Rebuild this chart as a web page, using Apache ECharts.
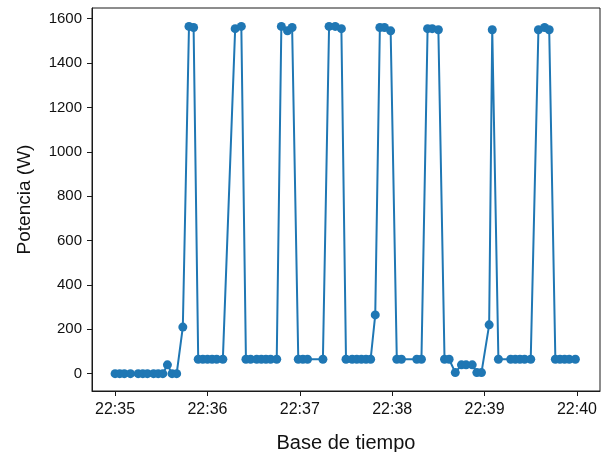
<!DOCTYPE html>
<html>
<head>
<meta charset="utf-8">
<script src="https://cdn.jsdelivr.net/npm/echarts@6/dist/echarts.min.js"></script>
<style>
html,body{margin:0;padding:0;background:#fff;}
#chart{width:603px;height:452px;}
</style>
</head>
<body>
<div id="chart"></div>
<script>
// Sample times (HH:MM:SS) and power readings (W)
const times = [
  "22:35:00","22:35:03","22:35:06","22:35:10","22:35:15","22:35:18","22:35:21","22:35:25","22:35:28","22:35:31",
  "22:35:34","22:35:37","22:35:40","22:35:44","22:35:48","22:35:51","22:35:54","22:35:57","22:36:00","22:36:03",
  "22:36:06","22:36:10","22:36:18","22:36:22","22:36:25","22:36:28","22:36:32","22:36:35","22:36:38","22:36:41",
  "22:36:45","22:36:48","22:36:52","22:36:55","22:36:59","22:37:02","22:37:05","22:37:15","22:37:19","22:37:23",
  "22:37:27","22:37:30","22:37:34","22:37:37","22:37:40","22:37:43","22:37:46","22:37:49","22:37:52","22:37:55",
  "22:37:59","22:38:03","22:38:06","22:38:16","22:38:19","22:38:23","22:38:26","22:38:30","22:38:34","22:38:37",
  "22:38:41","22:38:45","22:38:48","22:38:52","22:38:55","22:38:58","22:39:03","22:39:05","22:39:09","22:39:17",
  "22:39:20","22:39:23","22:39:26","22:39:30","22:39:35","22:39:39","22:39:42","22:39:46","22:39:49","22:39:52",
  "22:39:55","22:39:59"
];
const power = [
  0,0,0,0,0,0,0,0,0,0,
  40,0,0,210,1565,1560,65,65,65,65,
  65,65,1555,1565,65,65,65,65,65,65,
  65,1565,1545,1560,65,65,65,65,1565,1565,
  1555,65,65,65,65,65,65,265,1560,1560,
  1545,65,65,65,65,1555,1555,1550,65,65,
  5,40,40,40,5,5,220,1550,65,65,
  65,65,65,65,1550,1560,1550,65,65,65,
  65,65
];
const xTickTimes = ["22:35:00","22:36:00","22:37:00","22:38:00","22:39:00","22:40:00"];
const yTicks = [0,200,400,600,800,1000,1200,1400,1600];

// seconds of day
const sec = s => { const p = s.split(':').map(Number); return p[0]*3600 + p[1]*60 + (p[2]||0); };
const pad = n => (n<10?'0':'')+n;
const fmt = v => { const h=Math.floor(v/3600), m=Math.floor((v%3600)/60); return pad(h)+':'+pad(m); };
const seriesData = times.map((t,i)=>[sec(t), power[i]]);
const FONT = 'Liberation Sans, Arial, sans-serif';

const chart = echarts.init(document.getElementById('chart'), null, {renderer:'canvas'});
chart.setOption({
  animation:false,
  backgroundColor:'#fff',
  textStyle:{fontFamily:FONT},
  grid:{left:92,right:3,top:8,bottom:61,containLabel:false,outerBoundsMode:'none',
        show:true,borderColor:'#1a1a1a',borderWidth:1,backgroundColor:'transparent'},
  xAxis:{
    type:'value',
    min: sec("22:34:45"),
    max: sec("22:40:15"),
    name:'Base de tiempo',
    nameLocation:'middle',
    nameGap:42,
    nameTextStyle:{fontSize:20,color:'#111',fontFamily:FONT},
    axisLine:{show:true,onZero:false,lineStyle:{color:'#1a1a1a',width:1}},
    axisTick:{show:true,customValues:xTickTimes.map(sec),length:5,lineStyle:{color:'#1a1a1a'}},
    axisLabel:{customValues:xTickTimes.map(sec),fontSize:16,color:'#111',margin:11,formatter:v=>fmt(v)},
    splitLine:{show:false}
  },
  yAxis:{
    type:'value',
    min:-78,
    max:1648,
    name:'Potencia (W)',
    nameLocation:'middle',
    nameGap:58,
    nameTextStyle:{fontSize:19,color:'#111',fontFamily:FONT},
    axisLine:{show:true,onZero:false,lineStyle:{color:'#1a1a1a',width:1}},
    axisTick:{show:true,customValues:yTicks,length:5,lineStyle:{color:'#1a1a1a'}},
    axisLabel:{customValues:yTicks,fontSize:15,color:'#111',margin:10,formatter:v=>String(v)},
    splitLine:{show:false}
  },
  series:[{
    type:'line',
    data:seriesData,
    symbol:'circle',
    symbolSize:9,
    showAllSymbol:true,
    itemStyle:{color:'#1f77b4'},
    lineStyle:{color:'#1f77b4',width:2},
    z:3
  }]
});
</script>
</body>
</html>
